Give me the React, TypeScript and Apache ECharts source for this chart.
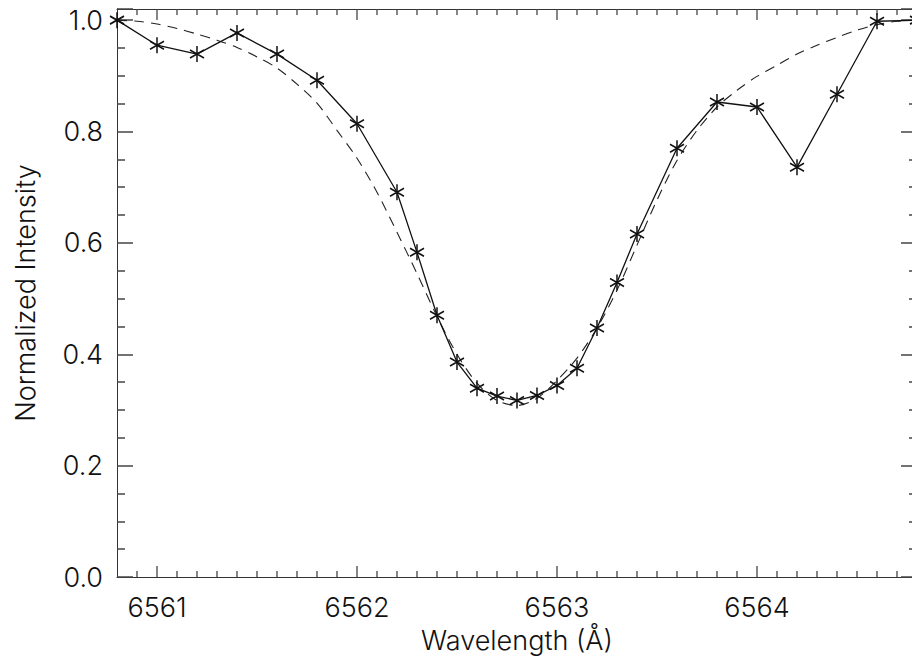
import React, { useEffect, useRef } from "react";
import * as echarts from "echarts";

const obsWave = [6560.8, 6561.0, 6561.2, 6561.4, 6561.6, 6561.8, 6562.0, 6562.2, 6562.3, 6562.4, 6562.5, 6562.6, 6562.7, 6562.8, 6562.9, 6563.0, 6563.1, 6563.2, 6563.3, 6563.4, 6563.6, 6563.8, 6564.0, 6564.2, 6564.4, 6564.6, 6564.8];
const obsIntensity = [1.0, 0.955, 0.939, 0.977, 0.939, 0.892, 0.814, 0.691, 0.583, 0.47, 0.386, 0.339, 0.325, 0.317, 0.326, 0.344, 0.375, 0.447, 0.529, 0.616, 0.77, 0.853, 0.844, 0.736, 0.867, 0.998, 1.0];

const fitWave = [6560.8, 6560.9, 6561.0, 6561.1, 6561.2, 6561.3, 6561.4, 6561.5, 6561.6, 6561.7, 6561.8, 6561.9, 6562.0, 6562.1, 6562.2, 6562.3, 6562.4, 6562.5, 6562.6, 6562.7, 6562.8, 6562.9, 6563.0, 6563.1, 6563.2, 6563.3, 6563.4, 6563.5, 6563.6, 6563.7, 6563.8, 6563.9, 6564.0, 6564.1, 6564.2, 6564.3, 6564.4, 6564.5, 6564.6, 6564.7, 6564.8];
const fitIntensity = [1.0, 0.998, 0.993, 0.985, 0.975, 0.964, 0.951, 0.934, 0.914, 0.885, 0.851, 0.802, 0.752, 0.691, 0.619, 0.545, 0.468, 0.4, 0.348, 0.317, 0.308, 0.321, 0.353, 0.393, 0.447, 0.515, 0.596, 0.677, 0.748, 0.802, 0.844, 0.874, 0.899, 0.919, 0.939, 0.955, 0.969, 0.982, 0.992, 0.998, 1.0];

// x-axis tick positions (major at whole Ångströms, minor every 0.1 Å)
const xMajorTicks = [6561, 6562, 6563, 6564];
const xMinorTicks = [
  6560.9, 6561.1, 6561.2, 6561.3, 6561.4, 6561.5, 6561.6, 6561.7, 6561.8, 6561.9,
  6562.1, 6562.2, 6562.3, 6562.4, 6562.5, 6562.6, 6562.7, 6562.8, 6562.9,
  6563.1, 6563.2, 6563.3, 6563.4, 6563.5, 6563.6, 6563.7, 6563.8, 6563.9,
  6564.1, 6564.2, 6564.3, 6564.4, 6564.5, 6564.6, 6564.7,
];

const xMin = 6560.8;
const xMax = 6564.8;
const yMin = 0;
const yMax = 1.02;

const FONT = "Inter";
const WEIGHT = 300;
const INK = "#111";
const AXIS = "#333";
const TICK = "#444";
const TICK_W = 1.5;

function yTickAxis(position: "left" | "right") {
  return {
    type: "value",
    gridIndex: 1,
    min: yMin,
    max: yMax,
    interval: 0.2,
    position,
    splitLine: { show: false },
    axisLine: { show: true, onZero: false, lineStyle: { color: AXIS, width: 1 } },
    axisTick: { show: true, inside: true, length: 16, lineStyle: { color: TICK, width: TICK_W } },
    minorTick: { show: true, splitNumber: 4, length: 8, lineStyle: { color: TICK, width: TICK_W } },
    axisLabel: { show: false },
  };
}

const xTopAxis = {
  type: "value",
  gridIndex: 1,
  min: xMin,
  max: xMax,
  splitNumber: 4,
  position: "top",
  splitLine: { show: false },
  axisLine: { show: true, onZero: false, lineStyle: { color: AXIS, width: 1 } },
  axisTick: { show: false },
  minorTick: { show: false },
  axisLabel: { show: false },
};

const xLabelAxis = {
  type: "value",
  gridIndex: 0,
  min: xMin,
  max: xMax,
  splitNumber: 4,
  position: "bottom",
  splitLine: { show: false },
  axisLine: { show: true, onZero: false, lineStyle: { color: AXIS, width: 1 } },
  axisTick: { show: false },
  minorTick: { show: false },
  name: "Wavelength (Å)",
  nameLocation: "middle",
  nameGap: 50,
  nameTextStyle: { fontFamily: FONT, fontWeight: WEIGHT, fontSize: 27, color: INK },
  axisLabel: {
    show: true,
    margin: 17,
    fontFamily: FONT,
    fontWeight: WEIGHT,
    fontSize: 27,
    color: INK,
    showMinLabel: false,
    showMaxLabel: false,
    formatter: (v: number) => String(Math.round(v)),
  },
};

const yLabelAxis = {
  type: "value",
  gridIndex: 0,
  min: yMin,
  max: yMax,
  interval: 0.2,
  position: "left",
  splitLine: { show: false },
  axisLine: { show: true, onZero: false, lineStyle: { color: AXIS, width: 1 } },
  axisTick: { show: false },
  minorTick: { show: false },
  name: "Normalized Intensity",
  nameLocation: "middle",
  nameGap: 78,
  nameTextStyle: { fontFamily: FONT, fontWeight: WEIGHT, fontSize: 27, color: INK },
  axisLabel: {
    show: true,
    margin: 14,
    fontFamily: FONT,
    fontWeight: WEIGHT,
    fontSize: 27,
    color: INK,
    showMaxLabel: false,
    formatter: (v: number) => v.toFixed(1),
  },
};

const gridBox = { left: 117, top: 9, width: 800, height: 568, containLabel: false };

export default function App() {
  const ref = useRef<HTMLDivElement>(null);
  useEffect(() => {
    if (!ref.current) return;
    const chart = echarts.init(ref.current, null, { renderer: "svg" });
    const tickData = [
      ...xMajorTicks.map((v) => [v, 1]),
      ...xMinorTicks.map((v) => [v, 0]),
    ];
    chart.setOption({
      animation: false,
      backgroundColor: "#fff",
      grid: [gridBox, { ...gridBox }],
      xAxis: [xLabelAxis, xTopAxis],
      yAxis: [yLabelAxis, yTickAxis("left"), yTickAxis("right")],
      series: [
        {
          type: "custom",
          xAxisIndex: 0,
          yAxisIndex: 0,
          silent: true,
          clip: false,
          z: 1,
          data: tickData,
          renderItem: (params: any, api: any) => {
            const v = api.value(0);
            const major = api.value(1) === 1;
            const len = major ? 11 : 6;
            const bottom = api.coord([v, yMin]);
            const top = api.coord([v, yMax]);
            const style = { stroke: TICK, lineWidth: 1.3, fill: "none" };
            return {
              type: "group",
              children: [
                { type: "line", shape: { x1: bottom[0], y1: bottom[1], x2: bottom[0], y2: bottom[1] - len }, style },
                { type: "line", shape: { x1: top[0], y1: top[1], x2: top[0], y2: top[1] + len }, style },
              ],
            };
          },
        },
        {
          type: "line",
          xAxisIndex: 0,
          yAxisIndex: 0,
          data: fitWave.map((w, i) => [w, fitIntensity[i]]),
          showSymbol: false,
          symbol: "none",
          smooth: 0.3,
          lineStyle: { color: "#222", width: 1.1, type: [10, 7] },
          z: 2,
        },
        {
          type: "line",
          xAxisIndex: 0,
          yAxisIndex: 0,
          data: obsWave.map((w, i) => [w, obsIntensity[i]]),
          symbol: "path://M7,0L7,16M0,4L14,12M0,12L14,4",
          symbolSize: [14, 16],
          lineStyle: { color: "#111", width: 1.3 },
          itemStyle: { color: "#111", borderColor: "#111", borderWidth: 1.6 },
          z: 3,
        },
      ],
    });
    return () => chart.dispose();
  }, []);
  return (
    <div style={{ position: "fixed", left: 0, top: 0, width: 912, height: 668, overflow: "hidden", background: "#fff" }}>
      <div ref={ref} style={{ width: 930, height: 668 }} />
    </div>
  );
}
